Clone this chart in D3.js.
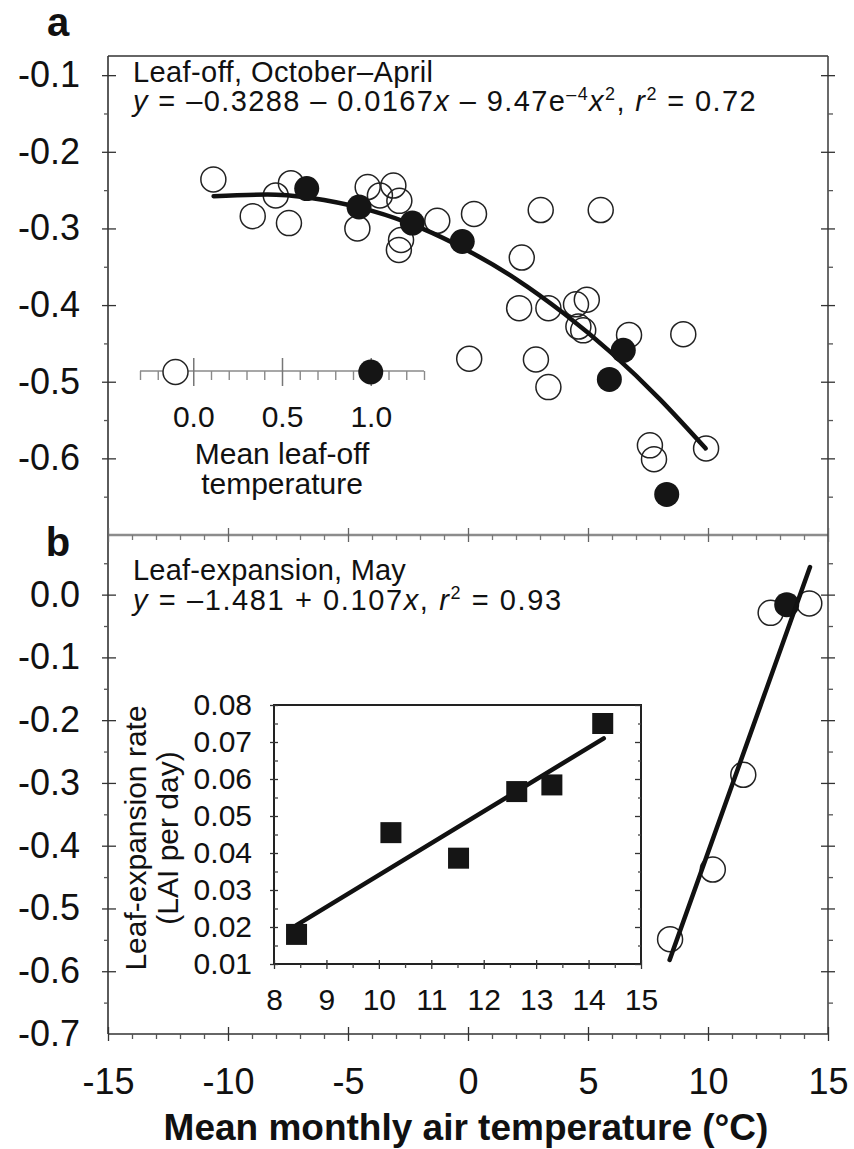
<!DOCTYPE html>
<html><head><meta charset="utf-8">
<script src="https://cdn.jsdelivr.net/npm/d3@7"></script>
<style>
body{margin:0;background:#fff}
svg{display:block}
text{font-family:"Liberation Sans",Arial,Helvetica,sans-serif;fill:#111}
.ax text{font-size:36px}
.in text{font-size:30px}
.hdr{font-size:29px}
</style>
</head><body>
<svg id="c" width="854" height="1149"></svg>
<script>
// ---------- data ----------
// Panel a: leaf-off (October–April)
const offOpenT = [-10.61,-8.97,-8.01,-7.38,-7.46,-4.18,-3.67,-3.11,-2.86,-4.61,-2.79,-2.88,-1.28,0.25,3.03,5.53,2.24,2.13,3.35,4.95,4.5,4.6,4.8,6.71,8.97,0.05,2.83,3.35,7.58,7.75,9.92];
const offOpenV = [-0.236,-0.284,-0.257,-0.241,-0.293,-0.246,-0.257,-0.244,-0.264,-0.300,-0.315,-0.328,-0.290,-0.281,-0.276,-0.276,-0.338,-0.404,-0.404,-0.393,-0.399,-0.428,-0.433,-0.439,-0.438,-0.470,-0.471,-0.507,-0.583,-0.601,-0.587];
const offFilledT = [-6.72,-4.54,-2.32,-0.24,6.47,5.89,8.28];
const offFilledV = [-0.248,-0.272,-0.293,-0.317,-0.459,-0.497,-0.647];
// quadratic fit curve
const fitAT = [-10.6,-8,-6,-4,-2,0,2,4,6,8,9.9];
const fitAV = [-0.258,-0.256,-0.263,-0.277,-0.299,-0.329,-0.366,-0.411,-0.463,-0.523,-0.587];
// inset a: mean leaf-off temperature
const insetOpenT = [-0.1];
const insetFilledT = [1.0];
const insetATicks = [0.0, 0.5, 1.0];

// Panel b: leaf-expansion (May)
const expOpenT = [8.42,10.2,11.47,12.61,14.22];
const expOpenV = [-0.549,-0.438,-0.287,-0.029,-0.014];
const expFilledT = [13.28];
const expFilledV = [-0.016];
const fitBT = [8.4, 14.25];
const fitBV = [-0.582, 0.044];
// inset b: leaf-expansion rate (LAI per day)
const rateT = [8.43,10.23,11.52,12.63,13.3,14.27];
const rateV = [0.018,0.0455,0.0386,0.0566,0.0584,0.075];
const fitRateT = [8.43, 14.29];
const fitRateV = [0.0205, 0.071];

// tick labels
const xTicks = [-15,-10,-5,0,5,10,15];
const yTicksA = [-0.1,-0.2,-0.3,-0.4,-0.5,-0.6];
const yTicksB = [0.0,-0.1,-0.2,-0.3,-0.4,-0.5,-0.6,-0.7];
const rateXTicks = [8,9,10,11,12,13,14,15];
const rateYTicks = [0.01,0.02,0.03,0.04,0.05,0.06,0.07,0.08];

// ---------- scales ----------
const x  = d3.scaleLinear([-15,15],[108,828]);
const yA = d3.scaleLinear([-0.7,-0.075],[535,56]);
const yB = d3.scaleLinear([-0.7,0.095],[1034,535]);
const rx = d3.scaleLinear([8,15],[274,641]);
const ry = d3.scaleLinear([0.01,0.08],[964,705]);
const ix = d3.scaleLinear([-0.3,1.3],[140,424]);
const insetAY = 371;

const svg = d3.select("#c");
const xMinor = d3.range(-15,16,1).filter(v=>v%5!==0);
const yMinorA = d3.range(-0.65,-0.1,0.1).map(v=>+v.toFixed(2));
const yMinorB = d3.range(-0.65,0.1,0.1).map(v=>+v.toFixed(2));
const rateXMinor = d3.range(8.5,15,1);
const rateYMinor = d3.range(0.015,0.08,0.01).map(v=>+v.toFixed(3));
const insetMinor = d3.range(-0.3,1.31,0.1).map(v=>+v.toFixed(1)).filter(v=>!insetATicks.includes(v));

function marks(pos, axisFn, scale, values, len, color, w){
  svg.append("g").attr("transform",pos)
    .call(axisFn(scale).tickValues(values).tickSize(len).tickFormat(""))
    .call(g=>{g.select(".domain").remove();
      g.selectAll("line").attr("stroke",color||"#333").attr("stroke-width",w||1.3);});
}
function labels(pos, axisFn, scale, values, pad, fmt, cls){
  svg.append("g").attr("class",cls).attr("transform",pos)
    .call(axisFn(scale).tickValues(values).tickSize(0).tickPadding(pad).tickFormat(fmt))
    .call(g=>{g.select(".domain").remove(); g.attr("font-size",null).attr("font-family",null);
      g.selectAll("text").attr("fill","#111");});
}
const fmt1 = d=>d.toFixed(1);

// ---------- frame ----------
const [X0,X1] = x.range();
function hline(y,c,w){svg.append("line").attr("x1",X0).attr("x2",X1).attr("y1",y).attr("y2",y).attr("stroke",c).attr("stroke-width",w);}
function vline(xx,ya,yb,c,w){svg.append("line").attr("x1",xx).attr("x2",xx).attr("y1",ya).attr("y2",yb).attr("stroke",c).attr("stroke-width",w);}
hline(yA.range()[1],"#333",1.6);
hline(yA.range()[0],"#8c8c8c",2.4);
hline(yB.range()[0],"#333",1.6);
vline(X0,yA.range()[1],yB.range()[0],"#333",1.6);
vline(X1,yA.range()[1],yB.range()[0],"#444",1.6);

// y ticks panel a
marks(`translate(${X0},0)`, d3.axisLeft, yA, yTicksA, 6);
marks(`translate(${X0},0)`, d3.axisRight, yA, yTicksA, 8);
marks(`translate(${X0},0)`, d3.axisLeft, yA, yMinorA, 4, "#555");
marks(`translate(${X1},0)`, d3.axisLeft, yA, yTicksA, 7);
marks(`translate(${X1},0)`, d3.axisRight, yA, yTicksA, 7);
marks(`translate(${X1},0)`, d3.axisRight, yA, yMinorA, 5, "#555");
// y ticks panel b
marks(`translate(${X0},0)`, d3.axisLeft, yB, yTicksB.slice(0,7), 6);
marks(`translate(${X0},0)`, d3.axisRight, yB, yTicksB.slice(0,7), 8);
marks(`translate(${X0},0)`, d3.axisLeft, yB, yMinorB, 4, "#555");
marks(`translate(${X1},0)`, d3.axisLeft, yB, yTicksB.slice(0,7), 7);
marks(`translate(${X1},0)`, d3.axisRight, yB, yTicksB.slice(0,7), 7);
marks(`translate(${X1},0)`, d3.axisRight, yB, yMinorB, 5, "#555");
// x ticks bottom and divider
[yB.range()[0], yA.range()[0]].forEach((yy,i)=>{
  marks(`translate(0,${yy})`, d3.axisBottom, x, xTicks, 7, i?"#666":"#333");
  marks(`translate(0,${yy})`, d3.axisTop, x, xTicks, 7, i?"#666":"#333");
  marks(`translate(0,${yy})`, d3.axisBottom, x, xMinor, 5, i?"#777":"#555");
});

// axis labels
labels(`translate(${X0},0)`, d3.axisLeft, yA, yTicksA, 28, fmt1, "ax");
labels(`translate(${X0},0)`, d3.axisLeft, yB, yTicksB, 28, fmt1, "ax");
labels(`translate(0,${yB.range()[0]})`, d3.axisBottom, x, xTicks, 34, d=>String(d), "ax");

svg.append("text").attr("x",466).attr("y",1140).attr("text-anchor","middle")
  .attr("font-size",37).attr("font-weight","bold").text("Mean monthly air temperature (°C)");
svg.append("text").attr("x",58).attr("y",36).attr("text-anchor","middle")
  .attr("font-size",40).attr("font-weight","bold").text("a");
svg.append("text").attr("x",58).attr("y",556).attr("text-anchor","middle")
  .attr("font-size",40).attr("font-weight","bold").text("b");

// headers
function rich(xx, yy, ls, parts){
  const t = svg.append("text").attr("class","hdr").attr("x",xx).attr("y",yy).attr("letter-spacing",ls);
  let sup=false;
  parts.forEach(([s,st])=>{
    const ts=t.append("tspan").text(s);
    if(st.includes("i")) ts.attr("font-style","italic");
    if(st.includes("s")){ ts.attr("font-size",18); if(!sup) ts.attr("dy",-11); sup=true; }
    else if(sup){ ts.attr("dy",11); sup=false; }
  });
}
rich(133,82,0.4,[["Leaf-off, October–April",""]]);
rich(133,111,1.4,[["y","i"],[" = –0.3288 – 0.0167",""],["x","i"],[" – 9.47e",""],["–4","s"],["x","i"],["2","s"],[", ",""],["r","i"],["2","s"],[" = 0.72",""]]);
rich(133,580,0.2,[["Leaf-expansion, May",""]]);
rich(133,610,1.6,[["y","i"],[" = –1.481 + 0.107",""],["x","i"],[", ",""],["r","i"],["2","s"],[" = 0.93",""]]);

// ---------- panel a marks ----------
const R = 12.5;
svg.append("g").selectAll("circle").data(d3.zip(offOpenT,offOpenV)).join("circle")
  .attr("cx",d=>x(d[0])).attr("cy",d=>yA(d[1])).attr("r",R)
  .attr("fill","none").attr("stroke","#222").attr("stroke-width",1.5);
svg.append("path").datum(d3.zip(fitAT,fitAV))
  .attr("d",d3.line().x(d=>x(d[0])).y(d=>yA(d[1])).curve(d3.curveNatural))
  .attr("fill","none").attr("stroke","#111").attr("stroke-width",4.5).attr("stroke-linecap","round");
svg.append("g").selectAll("circle").data(d3.zip(offFilledT,offFilledV)).join("circle")
  .attr("cx",d=>x(d[0])).attr("cy",d=>yA(d[1])).attr("r",R).attr("fill","#151515");

// inset a
svg.append("line").attr("x1",ix.range()[0]).attr("x2",ix.range()[1]).attr("y1",insetAY).attr("y2",insetAY)
  .attr("stroke","#8a8a8a").attr("stroke-width",1.6);
marks(`translate(0,${insetAY})`, d3.axisTop, ix, insetATicks, 13, "#777", 1.5);
marks(`translate(0,${insetAY})`, d3.axisBottom, ix, insetATicks, 15, "#777", 1.5);
marks(`translate(0,${insetAY})`, d3.axisBottom, ix, insetMinor, 9, "#8a8a8a", 1.4);
labels(`translate(0,${insetAY})`, d3.axisBottom, ix, insetATicks, 35, fmt1, "in");
svg.append("g").selectAll("circle").data(insetOpenT).join("circle")
  .attr("cx",d=>ix(d)).attr("cy",insetAY+1).attr("r",R).attr("fill","#fff").attr("stroke","#222").attr("stroke-width",1.5);
svg.append("g").selectAll("circle").data(insetFilledT).join("circle")
  .attr("cx",d=>ix(d)).attr("cy",insetAY+1).attr("r",R).attr("fill","#151515");
svg.append("text").attr("x",ix(0.5)).attr("y",464).attr("text-anchor","middle").attr("font-size",30).text("Mean leaf-off");
svg.append("text").attr("x",ix(0.5)).attr("y",494).attr("text-anchor","middle").attr("font-size",30).text("temperature");

// ---------- panel b marks ----------
svg.append("g").selectAll("circle").data(d3.zip(expOpenT,expOpenV)).join("circle")
  .attr("cx",d=>x(d[0])).attr("cy",d=>yB(d[1])).attr("r",R)
  .attr("fill","none").attr("stroke","#222").attr("stroke-width",1.5);
svg.append("g").selectAll("circle").data(d3.zip(expFilledT,expFilledV)).join("circle")
  .attr("cx",d=>x(d[0])).attr("cy",d=>yB(d[1])).attr("r",R).attr("fill","#151515");
svg.append("path").datum(d3.zip(fitBT,fitBV))
  .attr("d",d3.line().x(d=>x(d[0])).y(d=>yB(d[1])))
  .attr("fill","none").attr("stroke","#111").attr("stroke-width",4.5).attr("stroke-linecap","round");

// inset b
svg.append("rect").attr("x",rx.range()[0]).attr("y",ry.range()[1])
  .attr("width",rx.range()[1]-rx.range()[0]).attr("height",ry.range()[0]-ry.range()[1])
  .attr("fill","#fff").attr("stroke","#222").attr("stroke-width",2);
marks(`translate(${rx.range()[0]},0)`, d3.axisLeft, ry, rateYTicks, 4);
marks(`translate(${rx.range()[0]},0)`, d3.axisRight, ry, rateYTicks, 4);
marks(`translate(${rx.range()[0]},0)`, d3.axisRight, ry, rateYMinor, 4, "#444");
marks(`translate(${rx.range()[1]},0)`, d3.axisLeft, ry, rateYTicks, 6);
marks(`translate(${rx.range()[1]},0)`, d3.axisLeft, ry, rateYMinor, 3, "#444");
marks(`translate(0,${ry.range()[0]})`, d3.axisBottom, rx, rateXTicks, 5);
marks(`translate(0,${ry.range()[0]})`, d3.axisTop, rx, rateXTicks, 4);
marks(`translate(0,${ry.range()[0]})`, d3.axisBottom, rx, rateXMinor, 4, "#444");
labels(`translate(${rx.range()[0]},0)`, d3.axisLeft, ry, rateYTicks, 22, d=>d.toFixed(2), "in");
labels(`translate(0,${ry.range()[0]})`, d3.axisBottom, rx, rateXTicks, 25, d=>String(d), "in");
svg.append("path").datum(d3.zip(fitRateT,fitRateV))
  .attr("d",d3.line().x(d=>rx(d[0])).y(d=>ry(d[1])))
  .attr("fill","none").attr("stroke","#111").attr("stroke-width",4.5).attr("stroke-linecap","round");
const S = 21;
svg.append("g").selectAll("rect").data(d3.zip(rateT,rateV)).join("rect")
  .attr("x",d=>rx(d[0])-S/2).attr("y",d=>ry(d[1])-S/2).attr("width",S).attr("height",S).attr("fill","#151515");
svg.append("text").attr("transform","translate(146,838) rotate(-90)").attr("text-anchor","middle")
  .attr("font-size",30).text("Leaf-expansion rate");
svg.append("text").attr("transform","translate(178,838) rotate(-90)").attr("text-anchor","middle")
  .attr("font-size",30).text("(LAI per day)");
</script>
</body></html>
